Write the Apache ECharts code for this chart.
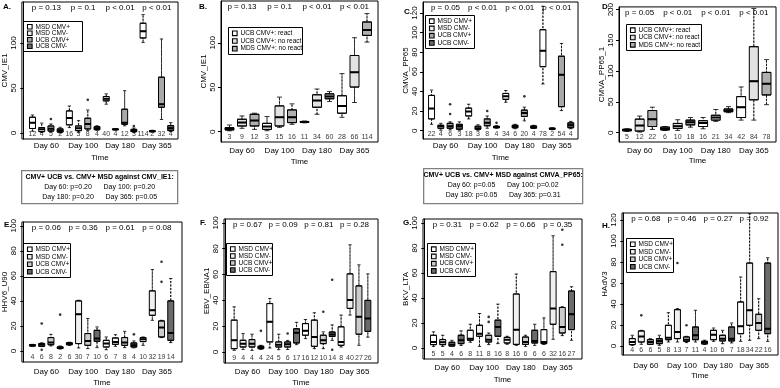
<!DOCTYPE html>
<html><head><meta charset="utf-8">
<script src="https://cdn.jsdelivr.net/npm/echarts@6/dist/echarts.min.js"></script>
<style>html,body{margin:0;padding:0;background:#fff}#c{width:780px;height:388px}</style>
</head><body><div id="c"></div>
<script>
// ---------------- DATA ----------------
const days = ['Day 60','Day 100','Day 180','Day 365'];
const groups4 = ['MSD CMV+','MSD CMV-','UCB CMV+','UCB CMV-'];
const groups3 = ['UCB CMV+: react','UCB CMV+: no react','MDS CMV+: no react'];

// box = [lower whisker, Q1, median, Q3, upper whisker]; outliers = [boxIndex, value]
const aBoxes = [[2,5,11.5,17.5,20],[0.5,1.5,4,6,11],[1,2.2,4.8,7.8,10],[0,1,2.6,4.5,6.3],
 [6,9,16.7,24.5,30],[0.7,2.6,5.2,7.8,13.7],[2.6,4.5,10,16.4,25.6],[3,3.7,5.2,7,8],
 [32,35.7,38,40.5,43.5],[3.2,3.6,4,4.3,4.7],[8,9.7,11.5,26.4,47],[0.5,1.5,2.6,4,5.5],
 [100.7,105.6,113,122,131.6],[1,1.5,2,2.5,3],[15,28.6,32,62,104.5],[1.5,2.6,5.2,8.2,11.5]];
const aCounts = [12,4,5,2,16,3,8,4,40,4,12,3,114,2,32,4];
const aOutliers = [[2,15.6],[6,36.8],[11,7.8]];
const aPvalues = ['p = 0.13','p = 0.1','p < 0.01','p < 0.01'];

const bBoxes = [[1,2,3,4.5,7.5],[3.8,6.4,10.2,14,17.7],[2.6,6.4,12.5,19.6,20.8],
 [1.1,2.6,5.7,9.4,17],[4.9,6.4,16.2,29,38.9],[8.3,10.2,16.2,24.5,31.3],
 [10,10.5,11,11.5,12],[19.6,27.5,35,41.5,48],[34,37,39.6,42.6,45.3],
 [16.2,20.8,29,40.4,65.3],[32.8,50.2,66.8,85.7,105.7],[100.8,108.3,114.3,123.4,132.8]];
const bCounts = [3,9,12,3,15,16,11,34,60,28,66,114];
const bOutliers = [];
const bPvalues = ['p = 0.13','p = 0.1','p < 0.01','p < 0.01'];

const cBoxes = [[6.5,12,22.5,36,41.5],[0.5,2.5,4.5,5.5,7.5],[0.7,2.5,4.5,7.5,9],[0.5,1.5,4.5,6.5,9],
 [12,15,19.5,23,27],[0.5,1.5,2.5,4.5,6],[2.5,5,8,12,15],[2.5,3,3.7,4.4,5.2],
 [29,32,35,38,41],[2,3,4.4,5.5,6.5],[10,14.5,18,21,24],[2.2,2.6,3.7,4.8,5.5],
 [47.6,65.3,81.6,103,127],[1,1.5,2,2.5,3],[20.5,24.5,57,76,89],[2,3,5.5,8,9.5]];
const cCounts = [22,4,6,3,18,3,8,4,34,6,20,4,78,2,54,4];
const cOutliers = [[2,27],[2,17],[6,20],[7,8],[10,35]];
const cPvalues = ['p = 0.05','p < 0.01','p < 0.01','p < 0.01'];

const dBoxes = [[2,3,4.5,5.5,6.5],[1,2.6,11.5,22,27],[5.2,10,22,36,41.4],
 [3.5,4.5,6.3,9,10],[3.7,6.8,10.5,15,21],[8.9,12.6,16.8,20.4,24.6],
 [6.3,10,15.7,19.4,24.6],[18.3,20.4,24.6,28.3,37.7],[32.5,34,36,38.5,42.4],
 [20.4,24.6,41.4,58.6,74.3],[20.4,53.4,83.8,139.8,202],[45.5,61.3,79.6,98,118.8]];
const dCounts = [5,12,22,6,10,18,16,21,34,42,84,78];
const dOutliers = [];
const dPvalues = ['p = 0.05','p < 0.01','p < 0.01','p < 0.01'];

const eBoxes = [[3.8,4,4.5,5,5.3],[3.5,3.7,5,6,6.5],[4,5,6.7,10.7,13.3],[1.5,2,2.7,3.2,4],
 [4.5,5,5.9,6.5,7],[2.4,5.9,29.3,40,40.5],[1.9,4.5,8,13.9,25.9],[2.7,7.7,9.9,16.5,19.2],
 [1,3.2,5.9,8.5,11.2],[3.7,5.3,7.2,10.4,13],[2.7,4.5,6.7,10.7,15.7],[2.5,3.2,4.5,6.4,8],
 [4.5,7.5,9.3,10.7,11.2],[24.5,28.5,32.5,48,65],[10.7,11.2,18.7,24,24.5],[6.7,8.5,14.4,40,57.9]];
const eCounts = [4,6,8,2,6,30,7,10,6,7,8,4,10,32,19,14];
const eOutliers = [[1,22],[1,1],[3,29],[11,13.3],[14,71.2],[14,55.2]];
const ePvalues = ['p = 0.06','p = 0.36','p = 0.61','p = 0.08'];

const fBoxes = [[1.3,2.6,9.1,24.7,35],[2,3.9,6.5,9.1,14.3],[1.3,3.9,6.5,9.6,13.8],[2,2.6,3.9,4.5,5.2],
 [3.1,7.8,23.4,37.5,41.5],[1.8,3.9,5.7,7.8,13.8],[2,3.9,6,7.8,9],[5.7,7,15,18,23],
 [10.4,13,16.4,22,25.2],[2.6,4.4,11.7,24.7,30.4],[2.6,6.5,9.1,13,15.6],[9,12,13.5,15.5,21],
 [3.9,5.2,7.8,19.5,28.6],[28.6,33.8,40.3,60.5,83],[5.2,13.8,27.3,51.2,67.5],[11.5,16,26,40,60.5]];
const fCounts = [9,4,4,4,24,5,6,17,16,12,10,14,8,40,27,26];
const fOutliers = [[3,16.4],[6,14.3],[10,31.2],[11,56],[11,1.8]];
const fPvalues = ['p = 0.67','p = 0.09','p = 0.81','p = 0.28'];

const gBoxes = [[1.3,2.7,4.8,10.2,12.9],[1.3,2.7,4.6,6.7,10.2],[1.5,1.6,2.9,4.6,6.2],[2.1,3.5,6.2,10.2,13.7],
 [4.6,6.2,7.5,14.2,19],[1.3,9.4,11.5,18.2,27.6],[2.7,4.8,6.7,10.2,12],[3.5,9.4,16.9,22.3,35.1],
 [3,4,6.7,8.5,9.4],[2.1,2.9,14.7,43.2,59.2],[1.3,2.9,4.8,8.8,10.2],[2.1,4,5.6,14.2,19],
 [2.9,3.5,4.8,14.7,24.1],[7,19,31.6,61.1,89.8],[9.9,12,16.9,32.4,33],[6.2,14.7,27.1,45.6,49]];
const gCounts = [5,5,4,6,8,11,8,16,8,16,6,6,6,32,16,27];
const gOutliers = [[6,20.9],[6,24.9],[14,94.6],[14,82.6]];
const gPvalues = ['p = 0.31','p = 0.62','p = 0.66','p = 0.35'];

const hBoxes = [[0.6,1.3,3.8,7,10.2],[1.6,3.8,9,14.3,14.9],[1.5,1.6,3.8,6,7],[0.6,2.2,4.8,7,10.2],
 [3.8,6,7.9,19.7,31.7],[3.8,7,13.3,34.6,35.6],[3.2,4.4,6,8.6,9.2],[3.8,6,10.2,18.1,34],
 [1.5,2,3.2,4.5,5.5],[4.4,6,10.8,14.9,17.1],[2.2,4.8,7,10.2,14.9],[2.9,4.8,7,18.1,21.9],
 [4.4,11.7,18.7,41.9,65.7],[5.4,19.7,34,79,126],[7,14.9,21.9,30.2,45],[4.4,11.7,16.5,79,84.1]];
const hCounts = [4,6,6,5,8,13,7,11,4,10,6,7,18,34,22,16];
const hOutliers = [[1,29.2],[5,79],[6,19.7]];
const hPvalues = ['p = 0.68','p = 0.46','p = 0.27','p = 0.92'];

const ticks50 = [0,50,100];
const ticks20to100 = [0,20,40,60,80,100];
const ticks20to120 = [0,20,40,60,80,100,120];
const ticks50to200 = [0,50,100,150,200];

const note1Lines = ['CMV+ UCB vs. CMV+ MSD against CMV_IE1:','Day 60: p=0.20      Day 100: p=0.20','Day 180: p=0.20      Day 365: p=0.05'];
const note2Lines = ['CMV+ UCB vs. CMV+ MSD against CMVA_PP65:','Day 60: p=0.05      Day 100: p=0.02','Day 180: p=0.05      Day 365: p=0.31'];

// ---------------- STYLE / LAYOUT ----------------
const FONT = "'Liberation Sans',Arial,sans-serif";
const colAC = ['#ffffff','#f0f0f0','#a8a8a8','#6b6b6b'];
const colEH = ['#ffffff','#f0f0f0','#cccccc','#6b6b6b'];
const col3 = ['#ffffff','#e2e2e2','#b0b0b0'];

const panels = [
 {L:'A.',lp:[3,3], g:[21,2,157,137], y:[-6.7,145.6], ticks:ticks50, name:'CMV_IE1', boxes:aBoxes, counts:aCounts, out:aOutliers, p:aPvalues, groups:groups4, col:colAC, x:[-0.15,16.79], bw:6, leg:[23,21,59,30], dayM:3, timeG:15},
 {L:'B.',lp:[199,3], g:[221,1,157,141], y:[-11.6,147], ticks:ticks50, name:'CMV_IE1', boxes:bBoxes, counts:bCounts, out:bOutliers, p:bPvalues, groups:groups3, col:col3, x:[0.32,12.88], bw:9, leg:[228,27,74,27], dayM:5, timeG:16},
 {L:'C.',lp:[404,8], g:[423,2,155,137], y:[-8.5,131.3], ticks:ticks20to120, name:'CMVA_PP65', boxes:cBoxes, counts:cCounts, out:cOutliers, p:cPvalues, groups:groups4, col:colAC, x:[0.08,16.78], bw:6, leg:[425,15,49,33], dayM:3, timeG:15},
 {L:'D.',lp:[602,3], g:[619,2,157,140], y:[-15.2,204.5], ticks:ticks50to200, name:'CMVA_PP65_1', boxes:dBoxes, counts:dCounts, out:dOutliers, p:dPvalues, groups:groups3, col:col3, x:[0.37,12.75], bw:9, leg:[626,24,75,26], dayM:5, timeG:15},
 {L:'E.',lp:[4,221], g:[21,222,161,140], y:[-8.8,103], ticks:ticks20to100, name:'HHV6_U90', boxes:eBoxes, counts:eCounts, out:eOutliers, p:ePvalues, groups:groups4, col:colEH, x:[-0.15,17.22], bw:6, leg:[23,243,47,34], dayM:6, timeG:17},
 {L:'F.',lp:[200,219], g:[224,219,154,144], y:[-8.5,103], ticks:ticks20to100, name:'EBV_EBNA1', boxes:fBoxes, counts:fCounts, out:fOutliers, p:fPvalues, groups:groups4, col:colEH, x:[-0.14,17.14], bw:6, leg:[226,243,46,32], dayM:5, timeG:16},
 {L:'G.',lp:[403,219], g:[423,219,159,140], y:[-8.8,103.2], ticks:ticks20to100, name:'BKV_LTA', boxes:gBoxes, counts:gCounts, out:gOutliers, p:gPvalues, groups:groups4, col:colEH, x:[-0.14,17.14], bw:6, leg:[427,243,48,33], dayM:5, timeG:17},
 {L:'H.',lp:[602,222], g:[622,213,156,142], y:[-8.6,126.7], ticks:ticks20to120, name:'HAdV3', boxes:hBoxes, counts:hCounts, out:hOutliers, p:hPvalues, groups:groups4, col:colEH, x:[-0.14,17.14], bw:6, leg:[626,238,47,34], dayM:7, timeG:17}
];

const txt = {fontSize:8, color:'#000', fontFamily:FONT};
const txtSmall = {fontSize:7, color:'#000', fontFamily:FONT};
const option = {animation:false, backgroundColor:'#fff', grid:[], xAxis:[], yAxis:[], series:[], graphic:[]};

function addPanel(P) {
  const gi = option.grid.length;
  option.grid.push({left:P.g[0], top:P.g[1], width:P.g[2], height:P.g[3], show:true, borderColor:'#000', borderWidth:1, backgroundColor:'transparent'});
  const per = P.groups.length;
  const centers = days.map((d,k) => k*per + (per+1)/2);
  const xb = {type:'value', gridIndex:gi, min:P.x[0], max:P.x[1], splitLine:{show:false}};
  const x0 = option.xAxis.length;
  option.xAxis.push(Object.assign({}, xb, {position:'bottom', axisLine:{show:false}, axisTick:{show:false},
    axisLabel:Object.assign({customValues:centers, margin:P.dayM, formatter:v => days[centers.indexOf(v)]}, txt),
    name:'Time', nameLocation:'middle', nameGap:P.timeG, nameTextStyle:txt}));
  option.xAxis.push(Object.assign({}, xb, {position:'top', axisLine:{show:false}, axisTick:{show:false},
    axisLabel:Object.assign({inside:true, customValues:centers, margin:2, formatter:v => P.p[centers.indexOf(v)]}, txt)}));
  for (let k=0;k<3;k++) option.xAxis.push(Object.assign({}, xb, {show:false}));
  const y0 = option.yAxis.length;
  option.yAxis.push({type:'value', gridIndex:gi, min:P.y[0], max:P.y[1], splitLine:{show:false},
    axisLine:{show:true, lineStyle:{color:'#000', width:1}},
    axisTick:{show:true, length:3, customValues:P.ticks, lineStyle:{color:'#000'}},
    axisLabel:Object.assign({customValues:P.ticks, rotate:90, margin:4}, txt),
    name:P.name, nameLocation:'middle', nameGap:12, nameRotate:90, nameTextStyle:txt});

  const base = {yAxisIndex:y0, silent:true};
  // dashed whiskers
  option.series.push(Object.assign({type:'boxplot', xAxisIndex:x0+2, boxWidth:[0,0],
    itemStyle:{color:'transparent', borderColor:'#000', borderWidth:0.8, borderType:[2,1.5]},
    data:P.boxes.map((b,i) => [i+1, b[0], b[0], b[2], b[4], b[4]])}, base));
  // whisker caps
  option.series.push(Object.assign({type:'scatter', xAxisIndex:x0, symbol:'rect', symbolSize:[P.bw*0.55,1],
    itemStyle:{color:'#000'}, data:P.boxes.flatMap((b,i) => [[i+1,b[0]],[i+1,b[4]]])}, base));
  // boxes
  option.series.push(Object.assign({type:'boxplot', xAxisIndex:x0+3, boxWidth:[P.bw,P.bw],
    itemStyle:{borderColor:'#000', borderWidth:1},
    data:P.boxes.map((b,i) => ({value:[i+1, b[1], b[1], b[2], b[3], b[3]], itemStyle:{color:P.col[i%per]}}))}, base));
  // thick medians
  option.series.push(Object.assign({type:'boxplot', xAxisIndex:x0+4, boxWidth:[P.bw,P.bw],
    itemStyle:{color:'transparent', borderColor:'#000', borderWidth:2},
    data:P.boxes.map((b,i) => [i+1, b[2], b[2], b[2], b[2], b[2]])}, base));
  // outliers
  option.series.push(Object.assign({type:'scatter', xAxisIndex:x0, symbol:'circle', symbolSize:2.6,
    itemStyle:{color:'#000'}, data:P.out.map(o => [o[0]+1, o[1]])}, base));
  // counts
  option.series.push(Object.assign({type:'scatter', xAxisIndex:x0, symbolSize:0, clip:false,
    label:Object.assign({show:true, position:'top', distance:1, formatter:q => String(P.counts[q.dataIndex])}, txtSmall),
    data:P.counts.map((c,i) => [i+1, P.y[0]])}, base));

  // panel letter
  option.graphic.push({type:'text', left:P.lp[0], top:P.lp[1], style:{text:P.L, font:'bold 8px '+FONT, fill:'#000'}});
  // legend
  const [lx,ly,lw,lh] = P.leg;
  const rowH = (lh-4)/P.groups.length;
  const ch = [{type:'rect', shape:{x:0,y:0,width:lw,height:lh}, style:{fill:'#fff', stroke:'#000', lineWidth:1}}];
  P.groups.forEach((n,i) => {
    const cy = 2 + rowH*(i+0.5);
    ch.push({type:'rect', shape:{x:4, y:cy-2.3, width:4.6, height:4.6}, style:{fill:P.col[i], stroke:'#000', lineWidth:1.1}});
    ch.push({type:'text', style:{x:12, y:cy, text:n, font:'6.5px '+FONT, fill:'#000', verticalAlign:'middle'}});
  });
  option.graphic.push({type:'group', left:lx, top:ly, children:ch});
}
panels.forEach(addPanel);

function addNote(x, y, w, h, lines) {
  const ch = [{type:'rect', shape:{x:0,y:0,width:w,height:h}, style:{fill:'#fff', stroke:'#808080', lineWidth:1.3}}];
  lines.forEach((t,i) => ch.push({type:'text', style:{x:w/2, y:6+i*10, text:t, align:'center', verticalAlign:'middle',
    font:(i===0?'bold ':'')+'7px '+FONT, fill:'#000'}}));
  option.graphic.push({type:'group', left:x, top:y, children:ch});
}
addNote(21, 170, 156, 33, note1Lines);
addNote(423, 168, 159, 35, note2Lines);

const chart = echarts.init(document.getElementById('c'), null, {renderer:'canvas'});
chart.setOption(option);
</script></body></html>
